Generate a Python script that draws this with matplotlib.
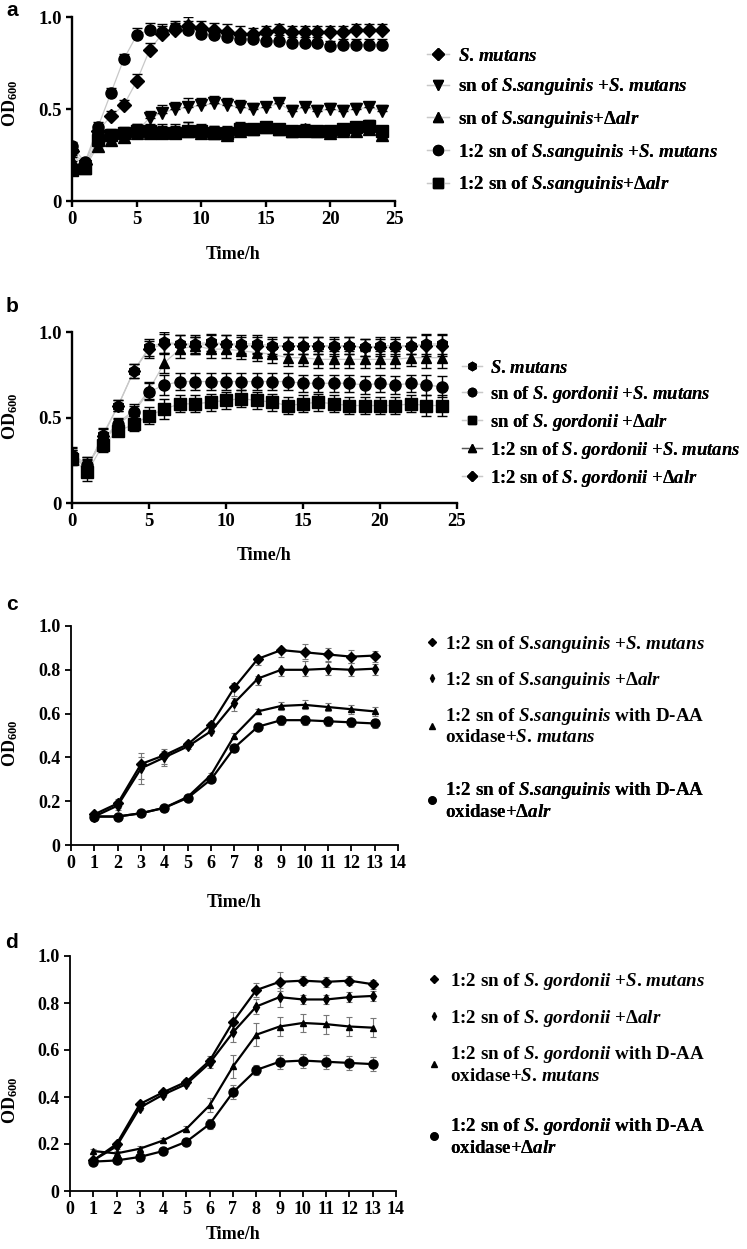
import matplotlib
matplotlib.use("Agg")
import matplotlib.pyplot as plt
from matplotlib.lines import Line2D
import numpy as np

plt.rcParams['font.family'] = ['Liberation Serif', 'DejaVu Serif']
plt.rcParams['font.weight'] = 'bold'
plt.rcParams['mathtext.fontset'] = 'custom'
plt.rcParams['mathtext.rm'] = 'Liberation Serif:bold'
plt.rcParams['mathtext.bf'] = 'Liberation Serif:bold'
plt.rcParams['mathtext.it'] = 'Liberation Serif:italic:bold'

# ---------------- data: panel a ----------------
t_ab = list(range(0, 25))
a_mutans = [0.27, 0.20, 0.38, 0.46, 0.52, 0.65, 0.82, 0.91, 0.93, 0.95, 0.94, 0.93, 0.92,
            0.91, 0.91, 0.92, 0.93, 0.92, 0.92, 0.92, 0.92, 0.92, 0.93, 0.93, 0.93]
a_sn_mut = [0.25, 0.19, 0.34, 0.35, 0.36, 0.38, 0.45, 0.48, 0.50, 0.51, 0.52, 0.53, 0.52,
            0.51, 0.50, 0.51, 0.53, 0.49, 0.51, 0.49, 0.50, 0.49, 0.50, 0.51, 0.49]
a_sn_alr = [0.22, 0.18, 0.30, 0.33, 0.35, 0.37, 0.37, 0.38, 0.38, 0.38, 0.37, 0.37, 0.36,
            0.38, 0.39, 0.40, 0.39, 0.38, 0.39, 0.38, 0.37, 0.38, 0.38, 0.39, 0.36]
a_12_mut = [0.30, 0.21, 0.40, 0.585, 0.77, 0.90, 0.93, 0.92, 0.94, 0.93, 0.91, 0.90, 0.89,
            0.88, 0.88, 0.87, 0.87, 0.86, 0.86, 0.86, 0.84, 0.85, 0.85, 0.85, 0.85]
a_12_alr = [0.17, 0.18, 0.33, 0.36, 0.37, 0.38, 0.38, 0.37, 0.37, 0.38, 0.38, 0.37, 0.37,
            0.39, 0.39, 0.40, 0.39, 0.38, 0.38, 0.38, 0.38, 0.39, 0.40, 0.41, 0.38]
a_err = [0.02, 0.02, 0.03, 0.03, 0.03, 0.04, 0.04, 0.04, 0.04, 0.05, 0.04, 0.04, 0.04,
         0.04, 0.03, 0.03, 0.03, 0.03, 0.03, 0.03, 0.03, 0.03, 0.03, 0.03, 0.03]
a_labels = [r'$\mathit{S}$. $\mathit{mutans}$',
            r'sn of $\mathit{S}$.$\mathit{sanguinis}$ +$\mathit{S}$. $\mathit{mutans}$',
            r'sn of $\mathit{S}$.$\mathit{sanguinis}$+Δ$\mathit{alr}$',
            r'1:2 sn of $\mathit{S}$.$\mathit{sanguinis}$ +$\mathit{S}$. $\mathit{mutans}$',
            r'1:2 sn of $\mathit{S}$.$\mathit{sanguinis}$+Δ$\mathit{alr}$']

# ---------------- data: panel b ----------------
b_mutans = [0.28, 0.20, 0.40, 0.57, 0.77, 0.91, 0.94, 0.93, 0.93, 0.94, 0.93, 0.93, 0.93,
            0.92, 0.92, 0.92, 0.92, 0.92, 0.92, 0.91, 0.92, 0.92, 0.92, 0.93, 0.93]
b_sn_mut = [0.27, 0.22, 0.36, 0.46, 0.53, 0.65, 0.69, 0.71, 0.71, 0.71, 0.71, 0.71, 0.71,
            0.71, 0.71, 0.70, 0.70, 0.70, 0.70, 0.69, 0.70, 0.69, 0.70, 0.69, 0.68]
b_sn_alr = [0.26, 0.18, 0.34, 0.42, 0.46, 0.51, 0.55, 0.58, 0.58, 0.59, 0.60, 0.61, 0.60,
            0.59, 0.57, 0.58, 0.59, 0.58, 0.57, 0.57, 0.57, 0.57, 0.58, 0.57, 0.57]
b_12_mut = [0.29, 0.22, 0.37, 0.47, 0.54, 0.66, 0.82, 0.90, 0.92, 0.90, 0.90, 0.89, 0.88,
            0.87, 0.85, 0.85, 0.84, 0.84, 0.84, 0.84, 0.84, 0.84, 0.85, 0.85, 0.85]
b_12_alr = [0.27, 0.21, 0.39, 0.57, 0.77, 0.90, 0.93, 0.93, 0.92, 0.93, 0.93, 0.92, 0.92,
            0.91, 0.92, 0.92, 0.92, 0.91, 0.92, 0.91, 0.91, 0.91, 0.92, 0.92, 0.92]
b_err = [0.04, 0.05, 0.04, 0.03, 0.04, 0.05, 0.06, 0.05, 0.05, 0.05, 0.05, 0.05, 0.05,
         0.05, 0.05, 0.05, 0.05, 0.05, 0.05, 0.05, 0.05, 0.05, 0.05, 0.06, 0.06]
b_labels = [r'$\mathit{S}$. $\mathit{mutans}$',
            r'sn of $\mathit{S}$. $\mathit{gordonii}$ +$\mathit{S}$. $\mathit{mutans}$',
            r'sn of $\mathit{S}$. $\mathit{gordonii}$ +Δ$\mathit{alr}$',
            r'1:2 sn of $\mathit{S}$. $\mathit{gordonii}$ +$\mathit{S}$. $\mathit{mutans}$',
            r'1:2 sn of $\mathit{S}$. $\mathit{gordonii}$ +Δ$\mathit{alr}$']

# ---------------- data: panel c ----------------
t_cd = list(range(1, 14))
c_mut = [0.14, 0.19, 0.37, 0.41, 0.46, 0.55, 0.72, 0.85, 0.89, 0.88, 0.87, 0.86, 0.865]
c_alr = [0.13, 0.18, 0.35, 0.40, 0.45, 0.52, 0.65, 0.76, 0.80, 0.80, 0.805, 0.80, 0.805]
c_ox_mut = [0.13, 0.13, 0.145, 0.17, 0.22, 0.32, 0.50, 0.61, 0.635, 0.64, 0.63, 0.62, 0.61]
c_ox_alr = [0.13, 0.13, 0.145, 0.17, 0.215, 0.30, 0.445, 0.54, 0.57, 0.57, 0.565, 0.56, 0.555]
c_err_hi = [0.01, 0.02, 0.05, 0.03, 0.01, 0.01, 0.02, 0.01, 0.01, 0.04, 0.03, 0.03, 0.02]
c_err_lo = [0.01, 0.02, 0.07, 0.04, 0.01, 0.01, 0.04, 0.03, 0.03, 0.03, 0.03, 0.03, 0.03]
c_err_ox = [0.01, 0.01, 0.01, 0.01, 0.01, 0.01, 0.01, 0.01, 0.02, 0.02, 0.02, 0.02, 0.02]
c_labels = [r'1:2 sn of $\mathit{S}$.$\mathit{sanguinis}$ +$\mathit{S}$. $\mathit{mutans}$',
            r'1:2 sn of $\mathit{S}$.$\mathit{sanguinis}$ +Δ$\mathit{alr}$',
            '1:2 sn of $\\mathit{S}$.$\\mathit{sanguinis}$ with D-AA\noxidase+$\\mathit{S}$. $\\mathit{mutans}$',
            '1:2 sn of $\\mathit{S}$.$\\mathit{sanguinis}$ with D-AA\noxidase+Δ$\\mathit{alr}$']

# ---------------- data: panel d ----------------
d_mut = [0.13, 0.20, 0.37, 0.42, 0.465, 0.555, 0.72, 0.855, 0.89, 0.895, 0.89, 0.895, 0.88]
d_alr = [0.13, 0.19, 0.355, 0.41, 0.455, 0.545, 0.675, 0.785, 0.825, 0.815, 0.815, 0.825, 0.83]
d_ox_mut = [0.17, 0.16, 0.18, 0.215, 0.265, 0.365, 0.53, 0.665, 0.70, 0.715, 0.71, 0.70, 0.695]
d_ox_alr = [0.125, 0.13, 0.145, 0.17, 0.21, 0.285, 0.42, 0.515, 0.55, 0.555, 0.55, 0.545, 0.54]
d_err_top = [0.01, 0.01, 0.01, 0.01, 0.01, 0.02, 0.04, 0.03, 0.04, 0.02, 0.02, 0.02, 0.02]
d_err_mid = [0.01, 0.01, 0.01, 0.01, 0.01, 0.03, 0.05, 0.05, 0.04, 0.04, 0.04, 0.04, 0.04]
d_err_low = [0.01, 0.01, 0.01, 0.01, 0.01, 0.02, 0.03, 0.02, 0.03, 0.03, 0.03, 0.03, 0.03]
d_labels = [r'1:2 sn of $\mathit{S}$. $\mathit{gordonii}$ +$\mathit{S}$. $\mathit{mutans}$',
            r'1:2 sn of $\mathit{S}$. $\mathit{gordonii}$ +Δ$\mathit{alr}$',
            '1:2 sn of $\\mathit{S}$. $\\mathit{gordonii}$ with D-AA\noxidase+$\\mathit{S}$. $\\mathit{mutans}$',
            '1:2 sn of $\\mathit{S}$. $\\mathit{gordonii}$ with D-AA\noxidase+Δ$\\mathit{alr}$']

W, H = 747, 1249
fig = plt.figure(figsize=(W / 100, H / 100), dpi=100)


def px_axes(left, right, top, bottom):
    return fig.add_axes([left / W, 1 - bottom / H, (right - left) / W, (bottom - top) / H])


ylab = r'$\mathrm{OD}_{\mathit{600}}$'


def style_axes(ax, lw, fs):
    for s in ['top', 'right']:
        ax.spines[s].set_visible(False)
    for s in ['left', 'bottom']:
        ax.spines[s].set_linewidth(lw)
    ax.tick_params(width=lw, length=4, labelsize=fs, direction='out')
    for lab in ax.get_xticklabels() + ax.get_yticklabels():
        lab.set_fontweight('bold')


def add_legend(ax, handles, labels, x, y, spacing, hl, pad, fs=13.7):
    leg = ax.legend(handles, labels, loc='upper left', bbox_to_anchor=(x / W, 1 - y / H),
                    bbox_transform=fig.transFigure, frameon=False, borderpad=0, borderaxespad=0,
                    labelspacing=spacing, handlelength=hl, handletextpad=pad,
                    prop={'family': 'Liberation Serif', 'weight': 'bold', 'size': fs})
    ax.add_artist(leg)
    return leg


# ================= panel a =================
axa = px_axes(72, 395, 17, 201)
a_series = [a_mutans, a_sn_mut, a_sn_alr, a_12_mut, a_12_alr]
a_markers = ['D', 'v', '^', 'o', 's']
a_ms = [7, 8, 8, 8, 8]
for ys, mk, ms in zip(a_series, a_markers, a_ms):
    axa.plot(t_ab, ys, color='#c8c8c8', lw=0.9, zorder=1)
    axa.errorbar(t_ab, ys, yerr=[np.zeros(len(ys)), a_err], fmt=mk, ms=ms, color='black',
                 ecolor='black', elinewidth=1.0, capsize=3.5, capthick=1.0, zorder=2)
axa.set_xlim(0, 25)
axa.set_ylim(0, 1.0)
axa.set_xticks([0, 5, 10, 15, 20, 25])
axa.set_yticks([0, 0.5, 1.0])
axa.set_yticklabels(['0', '0.5', '1.0'])
style_axes(axa, 1.7, 13.5)
axa.set_xlabel('Time/h', fontsize=13, fontweight='bold')
axa.xaxis.set_label_coords(0.5, -0.245)
axa.set_ylabel(ylab, fontsize=13)
axa.yaxis.set_label_coords(-0.161, 0.53)
ha = [Line2D([], [], color='#c8c8c8', lw=0.9, marker=m, ms=s * 0.9, mfc='black', mec='black')
      for m, s in zip(a_markers, a_ms)]
add_legend(axa, ha, a_labels, 427, 47.5, 0.61, 1.15, 0.5)

# ================= panel b =================
axb = px_axes(72, 457, 332, 503)
b_series = [b_mutans, b_sn_mut, b_sn_alr, b_12_mut, b_12_alr]
b_markers = ['h', 'o', 's', '^', 'D']
b_ms = [8, 8, 8, 7, 6.5]
for ys, mk, ms in zip(b_series, b_markers, b_ms):
    axb.plot(t_ab, ys, color='#c8c8c8', lw=0.9, zorder=1)
    axb.errorbar(t_ab, ys, yerr=b_err, fmt=mk, ms=ms, color='black',
                 ecolor='black', elinewidth=1.0, capsize=3.5, capthick=1.0, zorder=2)
axb.set_xlim(0, 25)
axb.set_ylim(0, 1.0)
axb.set_xticks([0, 5, 10, 15, 20, 25])
axb.set_yticks([0, 0.5, 1.0])
axb.set_yticklabels(['0', '0.5', '1.0'])
style_axes(axb, 1.7, 13.5)
axb.set_xlabel('Time/h', fontsize=13, fontweight='bold')
axb.xaxis.set_label_coords(0.5, -0.257)
axb.set_ylabel(ylab, fontsize=13)
axb.yaxis.set_label_coords(-0.135, 0.51)
hb = [Line2D([], [], color='#c8c8c8', lw=0.9, marker=m, ms=s * 0.75, mfc='black', mec='black')
      for m, s in zip(b_markers, b_ms)]
hb[3].set_color('#555555')
hb[3].set_markerfacecolor('black')
add_legend(axb, hb, b_labels, 462, 359.5, 0.38, 1.1, 0.4, fs=13.4)

# ================= panels c, d =================
def cd_panel(ax, series, errs, markers, sizes):
    for ys, (elo, ehi), mk, ms in zip(series, errs, markers, sizes):
        ax.errorbar(t_cd, ys, yerr=[elo, ehi], fmt='-' + mk, ms=ms, color='black', lw=1.6,
                    ecolor='#777777', elinewidth=0.8, capsize=2, capthick=0.8)
    ax.set_xlim(0, 14)
    ax.set_ylim(0, 1.0)
    ax.set_xticks(range(0, 15))
    ax.set_yticks([0, 0.2, 0.4, 0.6, 0.8, 1.0])
    ax.set_yticklabels(['0', '0.2', '0.4', '0.6', '0.8', '1.0'])
    style_axes(ax, 1.3, 13)
    ax.set_xlabel('Time/h', fontsize=13, fontweight='bold')
    ax.set_ylabel(ylab, fontsize=13)


cd_markers = ['D', 'd', '^', 'o']
cd_ms = [5, 5, 5, 6.5]

axc = px_axes(71, 398, 626, 845)
cd_panel(axc, [c_mut, c_alr, c_ox_mut, c_ox_alr],
         [(c_err_lo, c_err_hi), (c_err_lo, c_err_hi), (c_err_ox, c_err_ox), (c_err_ox, c_err_ox)],
         cd_markers, cd_ms)
axc.xaxis.set_label_coords(0.5, -0.224)
axc.yaxis.set_label_coords(-0.156, 0.466)
hc = [Line2D([], [], ls='none', marker=m, ms=s * 0.8, color='black') for m, s in zip(cd_markers, cd_ms)]
add_legend(axc, hc[:3], c_labels[:3], 425, 634, 0.78, 0.7, 0.35)
add_legend(axc, hc[3:], c_labels[3:], 425, 780, 0.78, 0.7, 0.35)

axd = px_axes(70, 396, 956, 1191)
cd_panel(axd, [d_mut, d_alr, d_ox_mut, d_ox_alr],
         [(d_err_top, d_err_top), (d_err_top, d_err_top), (d_err_mid, d_err_mid), (d_err_low, d_err_low)],
         cd_markers, cd_ms)
axd.xaxis.set_label_coords(0.5, -0.15)
axd.yaxis.set_label_coords(-0.153, 0.387)
add_legend(axd, hc[:3], d_labels[:3], 427, 971, 0.82, 0.7, 0.5)
add_legend(axd, hc[3:], d_labels[3:], 427, 1116, 0.82, 0.7, 0.5)

# panel letters
for letter, yc in zip(['a', 'b', 'c', 'd'], [10, 306, 605, 942]):
    fig.text(12 / W, 1 - yc / H, letter, family='Liberation Sans', weight='bold', fontsize=15,
             ha='center', va='center')

fig.savefig('out.png', dpi=100)
